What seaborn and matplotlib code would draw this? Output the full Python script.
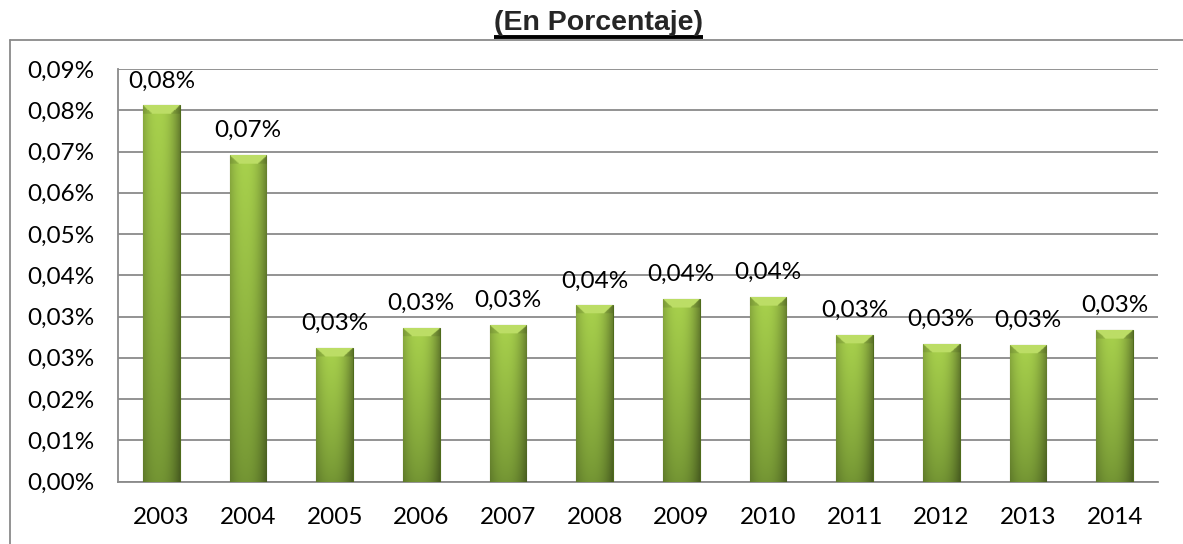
import numpy as np
import pandas as pd
import matplotlib
matplotlib.use("Agg")
import matplotlib.pyplot as plt
from matplotlib.lines import Line2D
import seaborn as sns

# ---- data ----
years = ["2003", "2004", "2005", "2006", "2007", "2008",
         "2009", "2010", "2011", "2012", "2013", "2014"]
values = [0.0784, 0.0681, 0.0279, 0.0320, 0.0327, 0.0367,
          0.0381, 0.0385, 0.0306, 0.0287, 0.0284, 0.0316]
y_step = 0.0086
n_ticks = 11
title = "(En Porcentaje)"

def pct(v):
    return f"{v:.2f}%".replace(".", ",")

sns.set_theme(style="white")
plt.rcParams["font.family"] = ["Lato", "DejaVu Sans"]

W, H = 1183, 544
fig = plt.figure(figsize=(W / 100, H / 100), dpi=100)
ax = fig.add_axes([118 / W, 1 - 481.5 / H, (1158 - 118) / W, (481.5 - 69) / H])

df = pd.DataFrame({"year": years, "value": values})
sns.barplot(data=df, x="year", y="value", ax=ax, width=0.42,
            color="#8db43c", edgecolor="#4e6b1b", linewidth=0.8,
            saturation=1, zorder=3)

yticks = [i * y_step for i in range(n_ticks)]
ymax = yticks[-1]

# gradient fill for each bar
bevel = 0.0017
for p in ax.patches:
    x0, w, h = p.get_x(), p.get_width(), p.get_height()
    ny, nx = 300, 60
    u = np.linspace(0, 1, nx)[None, :]
    v = np.linspace(0, 1, ny)[:, None]
    top = np.array([0.66, 0.82, 0.30])
    bot = np.array([0.45, 0.58, 0.20])
    t = (v ** 0.8)[..., None]
    col = bot * (1 - t) + top * t
    hf = 1.0 - 0.38 * (np.abs(u - 0.42) / 0.58) ** 2.2
    col = col * hf[..., None]
    depth = (1 - v) * h / bevel  # 0 at top, 1 at bevel bottom
    inside = (depth < 1) & (np.abs(u - 0.5) < 0.5 - 0.25 * depth)
    inside = np.broadcast_to(inside, (ny, nx))
    col[inside] = np.array([0.74, 0.87, 0.40])
    side = (depth < 1) & ~inside
    col[np.broadcast_to(side, (ny, nx))] *= 0.9
    col = np.clip(col[::-1], 0, 1)
    im = ax.imshow(col, extent=[x0, x0 + w, 0, h], aspect="auto",
                   zorder=3.5, interpolation="bilinear")
    im.set_clip_path(p)

ax.set_xlim(-0.5, len(years) - 0.5)
ax.set_ylim(0, ymax)
ax.set_yticks(yticks)
ax.set_yticklabels([pct(t) for t in yticks])
ax.set_xlabel("")
ax.set_ylabel("")
ax.grid(axis="y", color="#8a8a8a", linewidth=1.3, zorder=0)
ax.grid(axis="x", visible=False)
ax.tick_params(axis="both", length=0, labelsize=17.5, colors="black")
ax.tick_params(axis="y", pad=17)
ax.tick_params(axis="x", pad=18)
for s in ["top", "right"]:
    ax.spines[s].set_visible(False)
ax.spines["left"].set_color("#8a8a8a")
ax.spines["left"].set_linewidth(1.3)
ax.spines["bottom"].set_color("#8a8a8a")
ax.spines["bottom"].set_linewidth(1.3)

for i, v in enumerate(values):
    ax.annotate(pct(v), (i, v), xytext=(0, 13), textcoords="offset points",
                ha="center", va="baseline", fontsize=17.5, color="black",
                zorder=5)

# outer chart frame (top and left edges visible)
fy = 1 - 39.5 / H
fx = 9.5 / W
fig.add_artist(Line2D([fx, 1.0], [fy, fy], transform=fig.transFigure,
                      color="#8a8a8a", linewidth=1.3))
fig.add_artist(Line2D([fx, fx], [0, fy], transform=fig.transFigure,
                      color="#8a8a8a", linewidth=1.3))

# title with underline
tt = fig.text(598 / W, 1 - 23 / H, title, ha="center", va="center",
              fontsize=20.5, fontweight="bold",
              family=["Liberation Sans", "DejaVu Sans"])
fig.canvas.draw()
bb = tt.get_window_extent()
fig.add_artist(Line2D([bb.x0 / W, bb.x1 / W], [1 - 36.5 / H] * 2,
                      transform=fig.transFigure, color="black",
                      linewidth=2.8, solid_capstyle="butt"))

fig.savefig("out.png", dpi=100)
